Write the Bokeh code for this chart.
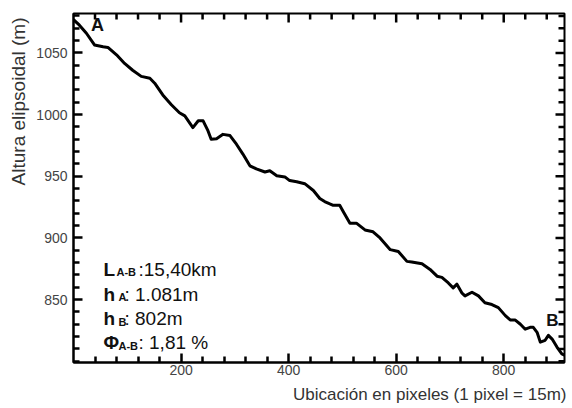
import math
from bokeh.plotting import figure
from bokeh.models import Range1d, LinearAxis, FixedTicker, Label, Title
from bokeh.embed import file_html
from bokeh.resources import INLINE

# ---- data ----
dist_px = [0, 11, 24, 39, 55, 64, 80, 95, 110, 126,
           142, 151, 166, 182, 197, 207, 222, 232, 241, 250,
           256, 266, 278, 291, 303, 315, 328, 340, 356, 365,
           378, 393, 402, 415, 430, 446, 458, 467, 483, 495,
           502, 514, 526, 542, 557, 570, 589, 604, 620, 629,
           648, 663, 676, 685, 697, 706, 713, 722, 728, 741,
           753, 765, 778, 790, 803, 812, 821, 831, 840, 849,
           855, 862, 868, 877, 883, 890, 899, 908, 913]
elev_m = [1077, 1072.5, 1066, 1056.5, 1055, 1054.5, 1048.5, 1041.5, 1036, 1031,
          1029.5, 1025.5, 1016, 1008, 1001.5, 999, 989.5, 995, 995, 987,
          980, 980.5, 984, 983, 976, 968, 958.5, 956, 953.5, 954.5,
          950.5, 949.5, 946.5, 945.5, 944, 938.5, 932, 929.5, 926.5, 926.5,
          921, 912, 912, 906.5, 905, 900, 890.5, 889, 881, 880.5,
          879, 874.5, 869, 868, 863.5, 859.5, 862.5, 855.5, 853, 856,
          853, 847.5, 846, 843.5, 837, 833.5, 833.5, 830, 826, 827.5,
          827.5, 823.5, 815.5, 817, 821, 818, 811.5, 806, 805]

x_major = [200, 400, 600, 800]
y_major = [850, 900, 950, 1000, 1050]
x_minor = [v for v in range(40, 913, 40) if v not in x_major]
y_minor = [v for v in range(800, 1081, 10) if v not in y_major]

x_label = "Ubicación en pixeles (1 pixel = 15m)"
y_label = "Altura elipsoidal (m)"
point_labels = ["A", "B"]
info_main = ["L", "h", "h", "Φ"]
info_sub = ["A-B", "A", "B", "A-B"]
info_rest = [":15,40km", ": 1.081m", ": 802m", ": 1,81 %"]

# ---- layout ----
X0, X1 = 0, 913
Y0, Y1 = 799, 1082
W, H = 572, 408
BL, BR, BT, BB = 73, 8, 13, 43
FW = W - BL - BR
FH = H - BT - BB
FONT = "Liberation Sans"
MAJ, MIN, TW = 9, 6, 2.5

def fx(px):
    return X0 + (px - BL) / FW * (X1 - X0)
def fy(py):
    return Y1 - (py - BT) / FH * (Y1 - Y0)

p = figure(width=W, height=H, x_range=Range1d(X0, X1), y_range=Range1d(Y0, Y1),
           output_backend="svg", toolbar_location=None,
           min_border_left=BL, min_border_right=BR, min_border_top=BT, min_border_bottom=BB,
           x_axis_location=None, y_axis_location=None)
p.grid.visible = False
p.outline_line_color = "black"
p.outline_line_width = 2
p.background_fill_color = "white"
p.border_fill_color = "white"

p.line(dist_px, elev_m, line_color="black", line_width=3, line_join="round")

def style_axis(ax):
    ax.axis_line_color = "black"
    ax.axis_line_width = 2
    ax.major_tick_in = MAJ
    ax.major_tick_out = 0
    ax.minor_tick_in = MIN
    ax.minor_tick_out = 0
    ax.major_tick_line_width = TW
    ax.minor_tick_line_width = TW
    ax.major_tick_line_color = "black"
    ax.minor_tick_line_color = "black"
    ax.major_label_text_font = FONT
    ax.major_label_text_font_size = "14px"
    ax.major_label_text_color = "#444444"

xax = LinearAxis(ticker=FixedTicker(ticks=x_major, minor_ticks=x_minor))
style_axis(xax)
xax.major_label_standoff = 2
p.add_layout(xax, "below")
yax = LinearAxis(ticker=FixedTicker(ticks=y_major, minor_ticks=y_minor))
style_axis(yax)
yax.major_label_standoff = 6
p.add_layout(yax, "left")

# inward tick marks on the top and right sides of the frame
dx_maj, dx_min = MAJ * (X1 - X0) / FW, MIN * (X1 - X0) / FW
dy_maj, dy_min = MAJ * (Y1 - Y0) / FH, MIN * (Y1 - Y0) / FH
for ticks, dy in [(x_major, dy_maj), (x_minor, dy_min)]:
    n = len(ticks)
    p.segment(x0=ticks, y0=[Y1 - 0.5] * n, x1=ticks, y1=[Y1 - dy] * n,
              line_color="black", line_width=TW)
for ticks, dx in [(y_major, dx_maj), (y_minor, dx_min)]:
    n = len(ticks)
    p.segment(x0=[X1 - 0.5] * n, y0=ticks, x1=[X1 - dx] * n, y1=ticks,
              line_color="black", line_width=TW)

# axis titles
p.add_layout(Title(text=x_label, align="right", text_font=FONT, text_font_size="17px",
                   text_font_style="normal", text_color="#333333", offset=-2), "below")
p.add_layout(Title(text=y_label, align="right", text_font=FONT, text_font_size="19px",
                   text_font_style="normal", text_color="#333333", offset=4), "left")

# point labels A / B
p.add_layout(Label(x=fx(97), y=fy(25), text=point_labels[0], text_align="center",
                   text_baseline="middle", text_font=FONT, text_font_size="18px",
                   text_font_style="bold", text_color="#111111"))
p.add_layout(Label(x=fx(552), y=fy(323), text=point_labels[1], text_align="center",
                   text_baseline="middle", text_font=FONT, text_font_size="17px",
                   text_font_style="bold", text_color="#111111"))

# info block
base_y = [271, 296, 321, 345]
sub_x = [116, 118, 118, 118]
rest_x = [138, 124, 124, 138]
for i in range(4):
    p.add_layout(Label(x=fx(103), y=fy(base_y[i]), text=info_main[i],
                       text_align="left", text_baseline="alphabetic",
                       text_font=FONT, text_font_size="19px", text_font_style="bold",
                       text_color="#111111"))
    p.add_layout(Label(x=fx(sub_x[i]), y=fy(base_y[i] + 3), text=info_sub[i],
                       text_align="left", text_baseline="alphabetic",
                       text_font=FONT, text_font_size="11px", text_font_style="bold",
                       text_color="#111111"))
    p.add_layout(Label(x=fx(rest_x[i]), y=fy(base_y[i]), text=info_rest[i],
                       text_align="left", text_baseline="alphabetic",
                       text_font=FONT, text_font_size="19px",
                       text_color="#111111"))

open("out.html", "w").write(file_html(p, INLINE))
